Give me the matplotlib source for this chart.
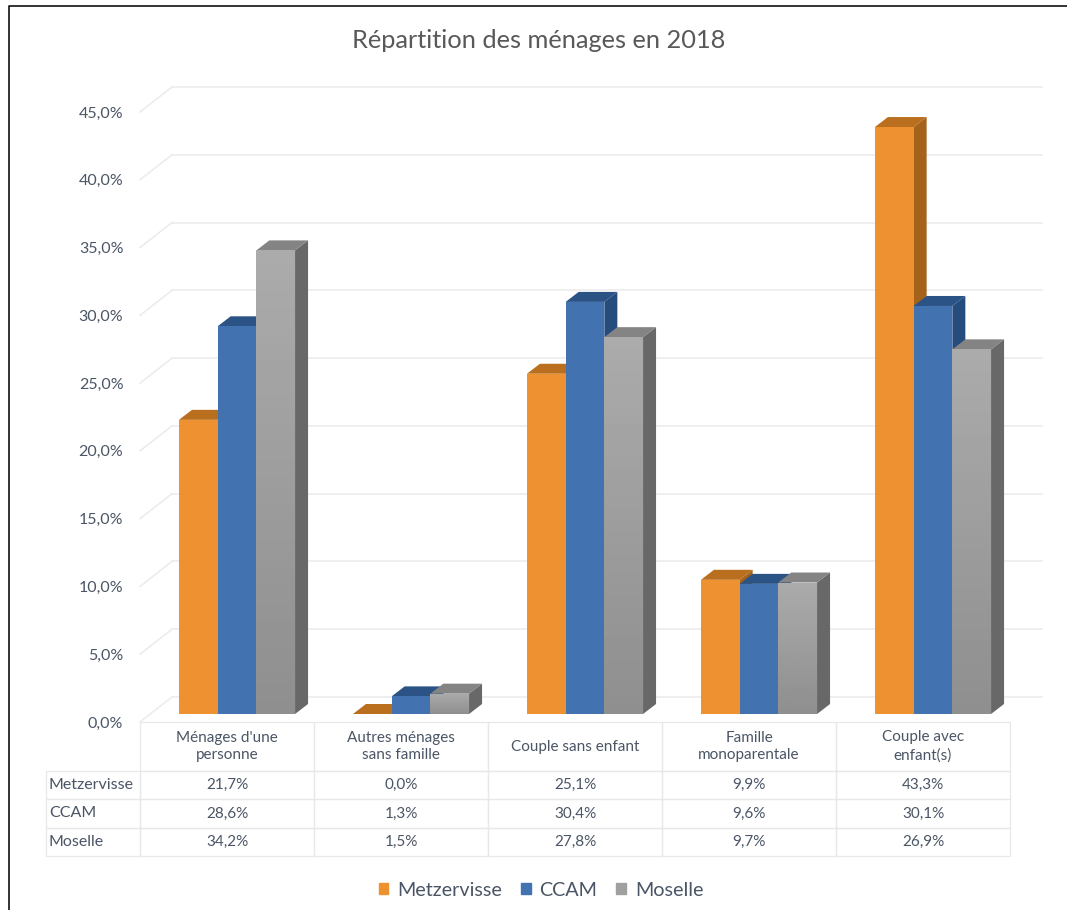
import numpy as np
import matplotlib
matplotlib.use('Agg')
from matplotlib import pyplot as plt
from matplotlib.lines import Line2D
from matplotlib.patches import Patch, Polygon
from matplotlib.table import Table

plt.rcParams['font.family'] = ['Lato', 'DejaVu Sans']

categories = ["Ménages d'une\npersonne", 'Autres ménages\nsans famille', 'Couple sans enfant',
              'Famille\nmonoparentale', 'Couple avec\nenfant(s)']
series_names = ['Metzervisse', 'CCAM', 'Moselle']
metzervisse = [21.7, 0.0, 25.1, 9.9, 43.3]
ccam = [28.6, 1.3, 30.4, 9.6, 30.1]
moselle = [34.2, 1.5, 27.8, 9.7, 26.9]
y_ticks = [0, 5, 10, 15, 20, 25, 30, 35, 40, 45]

W, H = 1067, 910
TXT = '#4a5565'
GRID = '#ebebeb'
EDGE = '#e6e8ec'

# couleurs : face, dessus, cote
couleurs = [('#ee9231', '#b96f1d', '#a5621b'),
            ('#4272b0', '#2b5386', '#264c7e'),
            ('#a0a0a0', '#848484', '#686868')]


def fr(v):
    return f'{v:.1f}'.replace('.', ',') + '%'


fig = plt.figure(figsize=(W / 100, H / 100), dpi=100)
ax = fig.add_axes([140 / W, (H - 722) / H, 870 / W, 610 / H])
ax.set_xlim(-0.5, 4.5)
ax.set_ylim(0, 45)

# passage des pixels aux unites des axes
ux = 174.0
uy = 610 / 45
depth_x = 13 / ux
depth_y = 10 / uy
wall_x = 32 / ux
wall_y = 25 / uy
floor = 8 / uy
bw = 38.7 / ux
shift = 10 / ux

# le mur du fond et les diagonales
for t in y_ticks:
    ax.plot([-0.5, -0.5 + wall_x], [t, t + wall_y], color=GRID, lw=1.1, clip_on=False, zorder=1)
    ax.plot([-0.5 + wall_x, 4.5 + wall_x], [t + wall_y, t + wall_y], color=GRID, lw=1.1, clip_on=False, zorder=1)

series = [metzervisse, ccam, moselle]
x = np.arange(len(categories))
zo = 2
for c in range(len(categories)):
    for s in range(3):
        v = series[s][c]
        left = x[c] + shift + (s - 1.5) * bw
        face, dessus, cote = couleurs[s]
        top = floor + v
        ax.add_patch(Polygon([(left + bw, floor), (left + bw + depth_x, floor + depth_y),
                              (left + bw + depth_x, top + depth_y), (left + bw, top)],
                             closed=True, fc=cote, ec='none', clip_on=False, zorder=zo))
        ax.add_patch(Polygon([(left, top), (left + depth_x, top + depth_y),
                              (left + bw + depth_x, top + depth_y), (left + bw, top)],
                             closed=True, fc=dessus, ec='none', clip_on=False, zorder=zo))
        b = ax.bar(left + bw / 2, v, bw, bottom=floor, color=face, lw=0, clip_on=False, zorder=zo)[0]
        if s == 2 and v > 0:
            # degrade du gris de la serie Moselle
            grad = np.linspace(0.67, 0.56, 64).reshape(-1, 1)
            im = ax.imshow(grad, extent=(left, left + bw, floor, top), aspect='auto', cmap='gray',
                           vmin=0, vmax=1, zorder=zo, clip_on=True)
            im.set_clip_path(b)
        zo += 1
ax.set_xlim(-0.5, 4.5)
ax.set_ylim(0, 45)

for sp in ax.spines.values():
    sp.set_visible(False)
ax.patch.set_visible(False)
ax.set_xticks([])
ax.set_yticks(y_ticks)
ax.set_yticklabels([fr(t) for t in y_ticks], fontsize=11.5, color=TXT)
ax.tick_params(axis='y', length=0, pad=12)

# le tableau de donnees
tb = Table(ax, loc='bottom')
tb.auto_set_font_size(False)
head_h = 49 / 610
row_h = 28.3 / 610
for c, cat in enumerate(categories):
    cell = tb.add_cell(0, c, 0.2, head_h, text=cat, loc='center', edgecolor=EDGE, facecolor='none')
    cell.get_text().set_linespacing(1.35)
for r, vals in enumerate(series):
    cell = tb.add_cell(r + 1, -1, 94 / 870, row_h, text=series_names[r], loc='left', edgecolor=EDGE, facecolor='none')
    cell.PAD = 0.03
    for c, v in enumerate(vals):
        tb.add_cell(r + 1, c, 0.2, row_h, text=fr(v), loc='center', edgecolor=EDGE, facecolor='none')
ax.add_table(tb)
for key, cell in tb.get_celld().items():
    cell.set_linewidth(0.9)
    cell.get_text().set_color(TXT)
    cell.get_text().set_fontsize(11.5 if key[1] == -1 else 11)

fig.text(539 / W, 1 - 40 / H, 'Répartition des ménages en 2018', ha='center', va='center', fontsize=18.3, color='#595959')

handles = [Patch(color=couleurs[i][0], label=series_names[i]) for i in range(3)]
leg = fig.legend(handles=handles, loc='center', bbox_to_anchor=(541 / W, 1 - 890 / H), ncol=3, frameon=False,
                 fontsize=14.2, handlelength=0.5, handleheight=0.5, handletextpad=0.45, columnspacing=0.95,
                 labelcolor=TXT)

# le bord de la capture
fig.add_artist(Line2D([9 / W, 9 / W, 1], [0, 1 - 6 / H, 1 - 6 / H], color='#111111', lw=1.2))

fig.savefig('out.png', dpi=100)
